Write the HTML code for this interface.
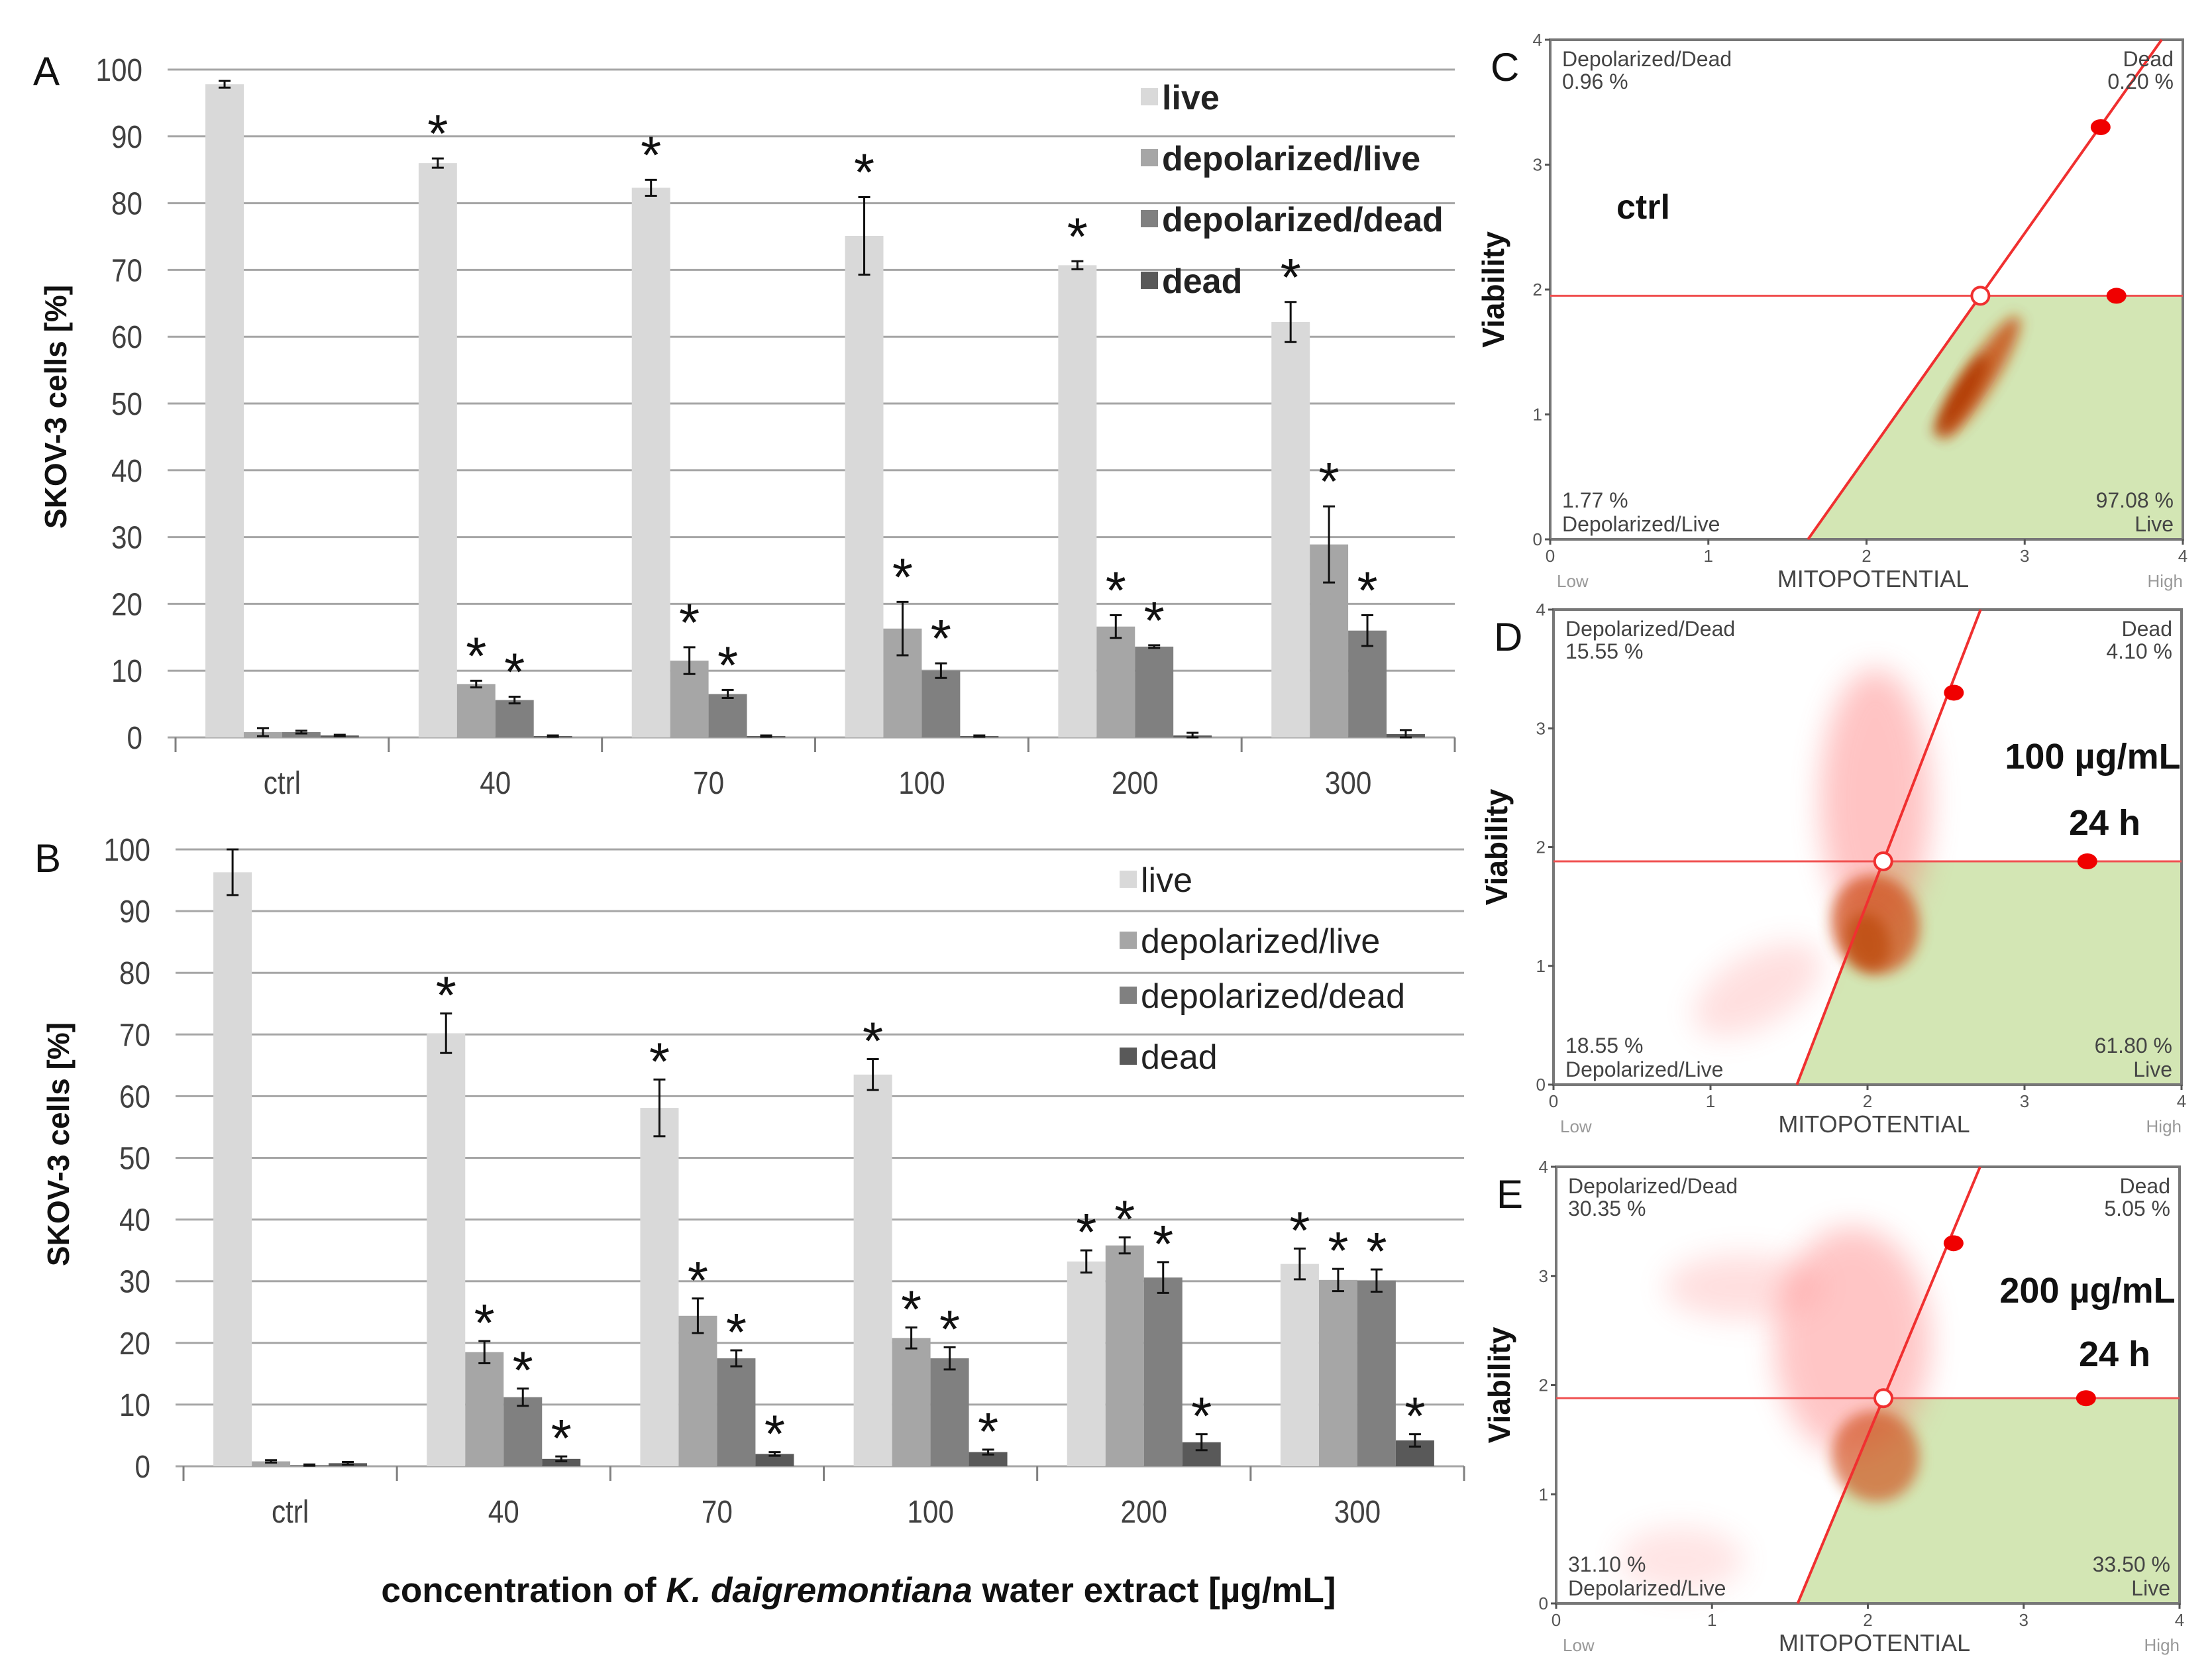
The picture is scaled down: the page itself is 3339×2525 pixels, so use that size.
<!DOCTYPE html>
<html><head><meta charset="utf-8"><style>
html,body{margin:0;padding:0;background:#fff;}
svg{display:block;}
text{font-family:"Liberation Sans",sans-serif;}
</style></head><body>
<svg id="fig" width="3339" height="2525" viewBox="0 0 3339 2525" xmlns="http://www.w3.org/2000/svg">
<defs>
<filter id="blur" x="-50%" y="-50%" width="200%" height="200%"><feGaussianBlur stdDeviation="10"/></filter>
<filter id="blur2" x="-50%" y="-50%" width="200%" height="200%"><feGaussianBlur stdDeviation="22"/></filter>
</defs>
<g id="chartA"></g>
<g id="chartB"></g>
<g id="flowC"></g>
<g id="flowD"></g>
<g id="flowE"></g>
<text x="1296" y="2418" font-size="53" font-weight="bold" text-anchor="middle" fill="#111">concentration of <tspan font-style="italic">K. daigremontiana</tspan> water extract [µg/mL]</text>
</svg>
<script>
const NS='http://www.w3.org/2000/svg';
const categories=['ctrl','40','70','100','200','300'];
const seriesNames=['live','depolarized/live','depolarized/dead','dead'];
const colors=['#d9d9d9','#a6a6a6','#808080','#595959'];
const yTicks=[0,10,20,30,40,50,60,70,80,90,100];
// Panel A values
const aLive=[97.8,86.0,82.3,75.1,70.7,62.2];
const aDepLive=[0.8,8.0,11.5,16.3,16.6,28.9];
const aDepDead=[0.8,5.6,6.5,10.0,13.6,16.0];
const aDead=[0.3,0.2,0.2,0.2,0.3,0.5];
const aLiveErr=[0.5,0.7,1.2,5.8,0.6,3.0];
const aDepLiveErr=[0.6,0.5,2.0,4.0,1.7,5.7];
const aDepDeadErr=[0.2,0.5,0.6,1.1,0.2,2.3];
const aDeadErr=[0.1,0.1,0.1,0.1,0.4,0.6];
const aStars=[[0,1,1,1,1,1],[0,1,1,1,1,1],[0,1,1,1,1,1],[0,0,0,0,0,0]];
// Panel B values
const bLive=[96.3,70.2,58.1,63.5,33.2,32.8];
const bDepLive=[0.8,18.5,24.4,20.8,35.8,30.2];
const bDepDead=[0.2,11.2,17.5,17.5,30.6,30.1];
const bDead=[0.5,1.2,2.0,2.3,3.9,4.2];
const bLiveErr=[3.7,3.2,4.6,2.5,1.8,2.5];
const bDepLiveErr=[0.2,1.8,2.8,1.7,1.3,1.8];
const bDepDeadErr=[0.1,1.4,1.3,1.8,2.5,1.8];
const bDeadErr=[0.2,0.4,0.3,0.4,1.3,1.0];
const bStars=[[0,1,1,1,1,1],[0,1,1,1,1,1],[0,1,1,1,1,1],[0,1,1,1,1,1]];

function el(parent,tag,attrs,txt){const e=document.createElementNS(NS,tag);for(const k in attrs)e.setAttribute(k,attrs[k]);if(txt!==undefined)e.textContent=txt;parent.appendChild(e);return e;}

function barChart(g,cfg){
  const y=v=>cfg.y0-(cfg.y0-cfg.y100)*v/100;
  const gw=(cfg.right-cfg.left)/categories.length;
  const x=(ci,si)=>cfg.left+ci*gw+gw*0.14+si*gw*0.18;
  const bw=gw*0.18;
  yTicks.forEach(t=>{
    const l=el(g,'line',{x1:cfg.left-12,x2:cfg.right,y1:y(t),y2:y(t),stroke:'#a6a6a6','stroke-width':3});
    
    
    const tx=el(g,'text',{x:0,y:0,'font-size':48,'text-anchor':'end',fill:'#404040',transform:`translate(${cfg.left-50},${y(t)+17}) scale(0.88,1)`},String(t));
    
    
  });
  for(let i=0;i<=categories.length;i++){
    const l=el(g,'line',{x1:cfg.left+i*gw,x2:cfg.left+i*gw,y1:cfg.y0,y2:cfg.y0+22,stroke:'#808080','stroke-width':3});
    
    
  }
  categories.forEach((c,ci)=>{
    const t=el(g,'text',{x:0,y:0,'font-size':48,'text-anchor':'middle',fill:'#404040',transform:`translate(${cfg.left+ci*gw+gw/2},${cfg.y0+85}) scale(0.88,1)`},c);
    
    
  });
  cfg.vals.forEach((arr,si)=>{
    arr.forEach((v,ci)=>{
      const bx=x(ci,si);
      const r=el(g,'rect',{x:bx,y:y(v),width:bw,height:y(0)-y(v),fill:colors[si]});
      
      
      const e=cfg.errs[si][ci], cx=bx+bw/2;
      const eb=el(g,'path',{d:`M${cx},${y(v+e)}V${y(Math.max(0,v-e))}M${cx-9},${y(v+e)}H${cx+9}M${cx-9},${y(Math.max(0,v-e))}H${cx+9}`,stroke:'#111','stroke-width':3,fill:'none'});
      
      
      if(cfg.stars[si][ci]){
        const s=el(g,'text',{x:cx,y:y(v+e)-cfg.starOff+44,'font-size':80,'text-anchor':'middle',fill:'#111'},'*');
        
        
      }
    });
  });
  seriesNames.forEach((n,si)=>{
    const ly=cfg.leg.y[si];
    const r=el(g,'rect',{x:cfg.leg.x,y:ly-18,width:26,height:26,fill:colors[si]});
    
    
    const t=el(g,'text',{x:cfg.leg.x+32,y:ly+14,'font-size':cfg.leg.fs,'font-weight':cfg.leg.bold?'bold':'normal',fill:'#222'},n);
    
    
  });
  const yt=el(g,'text',{x:0,y:0,'font-size':46,'font-weight':'bold','text-anchor':'middle',fill:'#111',transform:`translate(${cfg.ytX},${cfg.ytY}) rotate(-90)`},'SKOV-3 cells [%]');
  
  
  const pl=el(g,'text',{x:cfg.letter[0],y:cfg.letter[1],'font-size':60,fill:'#111'},cfg.letter[2]);
  
  
}

barChart(document.getElementById('chartA'),{y0:1113,y100:105,left:265,right:2196,
  vals:[aLive,aDepLive,aDepDead,aDead],errs:[aLiveErr,aDepLiveErr,aDepDeadErr,aDeadErr],stars:aStars,starOff:54,
  leg:{x:1722,y:[151,243,335,428],fs:52,bold:true},ytX:100,ytY:614,letter:[50,128,'A']});
barChart(document.getElementById('chartB'),{y0:2213,y100:1282,left:277,right:2210,
  vals:[bLive,bDepLive,bDepDead,bDead],errs:[bLiveErr,bDepLiveErr,bDepDeadErr,bDeadErr],stars:bStars,starOff:44,
  leg:{x:1690,y:[1332,1424,1507,1599],fs:52,bold:false},ytX:104,ytY:1727,letter:[52,1316,'B']});

// Flow plots: gate parameters and quadrant percentages
const flowC={box:[2340,60,3295,814],hLine:1.95,diagX0:1.63,cross:2.72,dots:[[3.48,3.3],[3.58,1.95]],
  pct:['0.96 %','0.20 %','1.77 %','97.08 %'],letter:'C',label:['ctrl'],labelPos:[2440,330,2440,0],
  clouds:[[2.72,1.3,0.45,0.12,-58,0.8,'#c84a10',1],[2.6,1.15,0.3,0.08,-58,0.95,'#b03800',1]]};
const flowD={box:[2345,920,3293,1637],hLine:1.88,diagX0:1.55,cross:2.1,dots:[[2.55,3.3],[3.4,1.88]],
  pct:['15.55 %','4.10 %','18.55 %','61.80 %'],letter:'D',label:['100 µg/mL','24 h'],labelPos:[3159,1160,3177,1260],
  clouds:[[2.05,2.4,0.35,1.1,0,0.4,'#ff6a6a',2],[2.05,1.35,0.28,0.42,-15,0.75,'#d0501a',1],[2.0,1.2,0.14,0.25,-15,0.6,'#b84000',1],[1.3,0.8,0.45,0.3,-30,0.22,'#ff7070',2]]};
const flowE={box:[2349,1761,3290,2420],hLine:1.88,diagX0:1.55,cross:2.1,dots:[[2.55,3.3],[3.4,1.88]],
  pct:['30.35 %','5.05 %','31.10 %','33.50 %'],letter:'E',label:['200 µg/mL','24 h'],labelPos:[3151,1966,3192,2062],
  clouds:[[1.9,2.4,0.5,1.05,0,0.38,'#ff6a6a',2],[2.05,1.35,0.28,0.42,-15,0.65,'#d0501a',1],[1.2,2.9,0.5,0.3,0,0.22,'#ff7070',2],[0.8,0.4,0.4,0.3,0,0.18,'#ff7070',2]]};

function flow(g,f){
  const [L,T,R,B]=f.box;
  const X=v=>L+(R-L)*v/4, Y=v=>B-(B-T)*v/4;
  const slope=f.hLine/(f.cross-f.diagX0);
  const xTop=f.diagX0+4/slope;
  const gr=el(g,'polygon',{points:`${X(f.diagX0)},${Y(0)} ${X(f.cross)},${Y(f.hLine)} ${X(4)},${Y(f.hLine)} ${X(4)},${Y(0)}`,fill:'#d3e6b4'});
  
  
  f.clouds.forEach(c=>{
    const e=el(g,'ellipse',{cx:X(c[0]),cy:Y(c[1]),rx:(R-L)*c[2]/4,ry:(B-T)*c[3]/4,fill:c[6],opacity:c[5],filter:c[7]==1?'url(#blur)':'url(#blur2)',transform:`rotate(${c[4]} ${X(c[0])} ${Y(c[1])})`});
    
    
  });
  const bx=el(g,'rect',{x:L,y:T,width:R-L,height:B-T,fill:'none',stroke:'#777','stroke-width':4});
  
  
  const hl=el(g,'line',{x1:L,x2:R,y1:Y(f.hLine),y2:Y(f.hLine),stroke:'#f05050','stroke-width':3});
  
  
  const dl=el(g,'line',{x1:X(f.diagX0),y1:Y(0),x2:X(Math.min(4,xTop)),y2:Y(Math.min(4,(4-f.diagX0)*slope)),stroke:'#f03030','stroke-width':4});
  
  
  f.dots.forEach(d=>{
    const c=el(g,'ellipse',{cx:X(d[0]),cy:Y(d[1]),rx:15,ry:12,fill:'#f00000'});
    
    
  });
  const oc=el(g,'circle',{cx:X(f.cross),cy:Y(f.hLine),r:13,fill:'#fff',stroke:'#f03030','stroke-width':4});
  
  
  for(let i=0;i<=4;i++){
    const t1=el(g,'text',{x:X(i),y:B+34,'font-size':26,'text-anchor':'middle',fill:'#555'},String(i));
    
    
    const t2=el(g,'text',{x:L-12,y:Y(i)+9,'font-size':26,'text-anchor':'end',fill:'#555'},String(i));
    
    
    el(g,'line',{x1:X(i),x2:X(i),y1:B,y2:B+8,stroke:'#555','stroke-width':3});
    el(g,'line',{x1:L-8,x2:L,y1:Y(i),y2:Y(i),stroke:'#555','stroke-width':3});
  }
  const fs=32,c='#444';
  const q=[['Depolarized/Dead',f.pct[0],L+18,T+40,'start'],['Dead',f.pct[1],R-14,T+40,'end']];
  q.forEach(a=>{
    const t=el(g,'text',{x:a[2],y:a[3],'font-size':fs,fill:c,'text-anchor':a[4]},a[0]);
    
    
    const p=el(g,'text',{x:a[2],y:a[3]+34,'font-size':fs,fill:c,'text-anchor':a[4]},a[1]);
    
    
  });
  const bq=[['Depolarized/Live',f.pct[2],L+18,'start'],['Live',f.pct[3],R-14,'end']];
  bq.forEach(a=>{
    const p=el(g,'text',{x:a[2],y:B-48,'font-size':fs,fill:c,'text-anchor':a[3]},a[1]);
    
    
    const t=el(g,'text',{x:a[2],y:B-12,'font-size':fs,fill:c,'text-anchor':a[3]},a[0]);
    
    
  });
  const lo=el(g,'text',{x:L+10,y:B+72,'font-size':26,fill:'#999'},'Low');
  
  
  const hi=el(g,'text',{x:R,y:B+72,'font-size':26,fill:'#999','text-anchor':'end'},'High');
  
  
  const mt=el(g,'text',{x:(L+R)/2+10,y:B+72,'font-size':36,fill:'#444','text-anchor':'middle'},'MITOPOTENTIAL');
  
  
  const vy=el(g,'text',{x:0,y:0,'font-size':46,'font-weight':'bold',fill:'#111','text-anchor':'middle',transform:`translate(${L-70},${Y(2)}) rotate(-90)`},'Viability');
  
  
  const le=el(g,'text',{x:L-90,y:T+62,'font-size':60,fill:'#111'},f.letter);
  
  
  f.label.forEach((s,i)=>{
    const t=el(g,'text',{x:f.labelPos[i*2],y:f.labelPos[i*2+1],'font-size':i==0&&f.letter=='C'?52:54,'font-weight':'bold',fill:'#111','text-anchor':f.letter=='C'?'start':'middle'},s);
    
    
  });
}
flow(document.getElementById('flowC'),flowC);
flow(document.getElementById('flowD'),flowD);
flow(document.getElementById('flowE'),flowE);
</script>
</body></html>
